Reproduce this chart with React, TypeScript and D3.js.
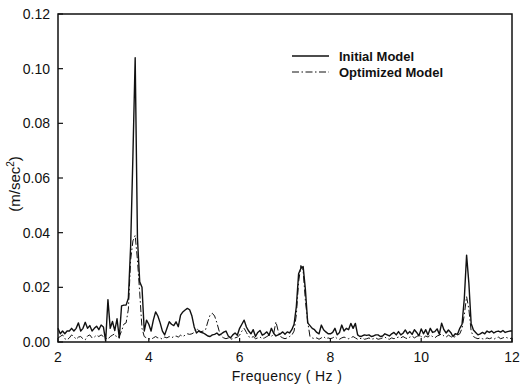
import * as d3 from "d3";

// frequency grid: 2.0 .. 12.0 Hz, 0.05 Hz steps
const freqStart = 2;
const freqStep = 0.05;

const initialModel = [
  0.005, 0.003, 0.004, 0.003, 0.004, 0.004, 0.005, 0.004, 0.005, 0.007,
  0.004, 0.005, 0.0072, 0.005, 0.006, 0.004, 0.005, 0.0058, 0.0045, 0.0062,
  0.0055, 0.0003, 0.0155, 0.005, 0.0075, 0.0042, 0.0085, 0.0015, 0.0132, 0.0135,
  0.0135, 0.016, 0.035, 0.068, 0.104, 0.038, 0.022, 0.02, 0.004, 0.008,
  0.0065, 0.004, 0.008, 0.011, 0.0095, 0.007, 0.004, 0.0026, 0.005, 0.0074,
  0.0065, 0.006, 0.0074, 0.0056, 0.0098, 0.011, 0.0117, 0.0123, 0.0118, 0.0095,
  0.0055, 0.0033, 0.004, 0.0035, 0.0033, 0.0028, 0.0022, 0.002, 0.0026, 0.0028,
  0.0033, 0.0025, 0.003, 0.0036, 0.004, 0.0022, 0.0015, 0.0026, 0.0033, 0.0025,
  0.005, 0.0065, 0.008, 0.0055, 0.004, 0.003, 0.0045, 0.002, 0.0035, 0.0042,
  0.0025, 0.003, 0.0037, 0.0025, 0.005, 0.0032, 0.0022, 0.0026, 0.003, 0.0037,
  0.0028, 0.0037, 0.0033, 0.0045, 0.0065, 0.013, 0.025, 0.027, 0.0276, 0.019,
  0.007, 0.006, 0.005, 0.0045, 0.0035, 0.003, 0.0062, 0.0045, 0.0037, 0.003,
  0.003, 0.0035, 0.005, 0.0026, 0.0035, 0.0062, 0.004, 0.005, 0.0045, 0.0068,
  0.005, 0.0068, 0.0026, 0.002, 0.0022, 0.0026, 0.0024, 0.0026, 0.002, 0.0022,
  0.0026, 0.0026, 0.002, 0.0022, 0.003, 0.0026, 0.0022, 0.003, 0.0035, 0.0026,
  0.0038, 0.0026, 0.0032, 0.0044, 0.003, 0.0038, 0.0028, 0.0045, 0.0035, 0.0022,
  0.0048, 0.003, 0.0045, 0.0026, 0.005, 0.0035, 0.0038, 0.0048, 0.0028, 0.0069,
  0.0045, 0.0033, 0.0044, 0.0035, 0.002, 0.003, 0.0028, 0.005, 0.0065, 0.016,
  0.0318, 0.0215, 0.0068, 0.0044, 0.0035, 0.0026, 0.003, 0.0035, 0.003, 0.004,
  0.0035, 0.004, 0.0033, 0.0038, 0.004, 0.0036, 0.0042, 0.0035, 0.0038, 0.004,
  0.004,
];

const optimizedModel = [
  0.0015, 0.002, 0.0026, 0.0012, 0.0008, 0.0015, 0.0026, 0.002, 0.001, 0.0018,
  0.002, 0.0012, 0.0008, 0.0022, 0.0026, 0.0015, 0.0018, 0.0025, 0.002, 0.0026,
  0.002, 0.0015, 0.001, 0.002, 0.0025, 0.003, 0.0015, 0.002, 0.004, 0.0065,
  0.007, 0.012, 0.03, 0.037, 0.039, 0.03, 0.018, 0.005, 0.002, 0.0015,
  0.0012, 0.001, 0.0015, 0.002, 0.0015, 0.0015, 0.001, 0.0018, 0.0015, 0.002,
  0.0015, 0.002, 0.0022, 0.0018, 0.0025, 0.002, 0.0025, 0.003, 0.0028, 0.003,
  0.0035, 0.005, 0.0042, 0.0038, 0.004, 0.0045, 0.0074, 0.0099, 0.0105, 0.0095,
  0.007, 0.004, 0.002, 0.0015, 0.0012, 0.0015, 0.001, 0.0012, 0.0015, 0.0018,
  0.0025, 0.004, 0.005, 0.0035, 0.002, 0.0015, 0.002, 0.0012, 0.0015, 0.0018,
  0.0012, 0.0015, 0.002, 0.0025, 0.002, 0.003, 0.0074, 0.004, 0.002, 0.0015,
  0.0012, 0.0015, 0.002, 0.0025, 0.004, 0.01, 0.022, 0.028, 0.026, 0.015,
  0.0074, 0.002, 0.0015, 0.0012, 0.0015, 0.001, 0.0015, 0.002, 0.0012, 0.0015,
  0.0012, 0.0015, 0.002, 0.0012, 0.001, 0.0015, 0.0018, 0.0015, 0.0012, 0.0015,
  0.002, 0.0015, 0.001, 0.0012, 0.0015, 0.001, 0.0012, 0.0015, 0.001, 0.0012,
  0.0015, 0.001, 0.0012, 0.0015, 0.0018, 0.0012, 0.001, 0.0015, 0.0012, 0.0015,
  0.0018, 0.0015, 0.002, 0.0015, 0.0012, 0.0018, 0.0022, 0.0015, 0.002, 0.0025,
  0.002, 0.0015, 0.0022, 0.0018, 0.0025, 0.002, 0.0015, 0.0022, 0.0025, 0.003,
  0.0022, 0.0018, 0.0025, 0.002, 0.0015, 0.002, 0.0025, 0.003, 0.005, 0.01,
  0.0166, 0.012, 0.004, 0.002, 0.0015, 0.0012, 0.0015, 0.0012, 0.001, 0.0015,
  0.0012, 0.0015, 0.001, 0.0015, 0.0018, 0.0012, 0.0015, 0.0018, 0.0015, 0.0012,
  0.0015,
];

const xTicks = [2, 4, 6, 8, 10, 12];
const yTicks = [0, 0.02, 0.04, 0.06, 0.08, 0.1, 0.12];
const legendLabels = ["Initial Model", "Optimized Model"];

const W = 521;
const H = 388;
const margin = { top: 14, right: 9, bottom: 46, left: 58 };
const font = "'Liberation Sans', Arial, sans-serif";
const dashDot = "7,2.5,1.5,2.5";

export default function App() {
  const x = d3
    .scaleLinear()
    .domain([2, 12])
    .range([margin.left, W - margin.right]);
  const y = d3
    .scaleLinear()
    .domain([0, 0.12])
    .range([H - margin.bottom, margin.top]);

  const line = d3
    .line<number>()
    .x((_, i) => x(freqStart + i * freqStep))
    .y((d) => y(d));

  const x0 = x(2);
  const x1 = x(12);
  const y0 = y(0);
  const y1 = y(0.12);

  return (
    <svg
      width={W}
      height={H}
      style={{ position: "absolute", left: 0, top: 0, background: "#fff" }}
      fontFamily={font}
    >
      <path d={line(optimizedModel) ?? ""} fill="none" stroke="#111" strokeWidth={1} strokeDasharray={dashDot} />
      <path d={line(initialModel) ?? ""} fill="none" stroke="#111" strokeWidth={1.4} strokeLinejoin="round" />

      {/* frame */}
      <rect x={x0} y={y1} width={x1 - x0} height={y0 - y1} fill="none" stroke="#111" strokeWidth={1.5} />

      {yTicks.map((t) => (
        <g key={t}>
          <line x1={x0} x2={x0 + 5} y1={y(t)} y2={y(t)} stroke="#111" strokeWidth={1.2} />
          <text x={x0 - 8} y={y(t)} dy="0.35em" textAnchor="end" fontSize={14} fill="#111">
            {t.toFixed(2)}
          </text>
        </g>
      ))}
      {xTicks.map((t) => (
        <g key={t}>
          <line x1={x(t)} x2={x(t)} y1={y0} y2={y0 - 4} stroke="#111" strokeWidth={1.2} />
          <text x={x(t)} y={y0 + 20} textAnchor="middle" fontSize={14} fill="#111">
            {t}
          </text>
        </g>
      ))}

      <text
        x={(x0 + x1) / 2 + 2}
        y={H - 7}
        textAnchor="middle"
        fontSize={14}
        letterSpacing={0.4}
        fill="#111"
      >
        Frequency ( Hz )
      </text>
      <text transform={`translate(20,${184}) rotate(-90)`} textAnchor="middle" fontSize={15} fill="#111">
        (m/sec<tspan dy={-6} fontSize={10}>2</tspan><tspan dy={6}>)</tspan>
      </text>

      {/* legend */}
      {legendLabels.map((label, i) => (
        <g key={label} transform={`translate(292,${56 + i * 16})`}>
          <line
            x1={0}
            x2={37}
            y1={0}
            y2={0}
            stroke="#111"
            strokeWidth={i === 0 ? 1.4 : 1}
            strokeDasharray={i === 0 ? undefined : dashDot}
          />
          <text x={47} y={0} dy="0.35em" fontSize={13} fontWeight="bold" fill="#111">
            {label}
          </text>
        </g>
      ))}
    </svg>
  );
}
